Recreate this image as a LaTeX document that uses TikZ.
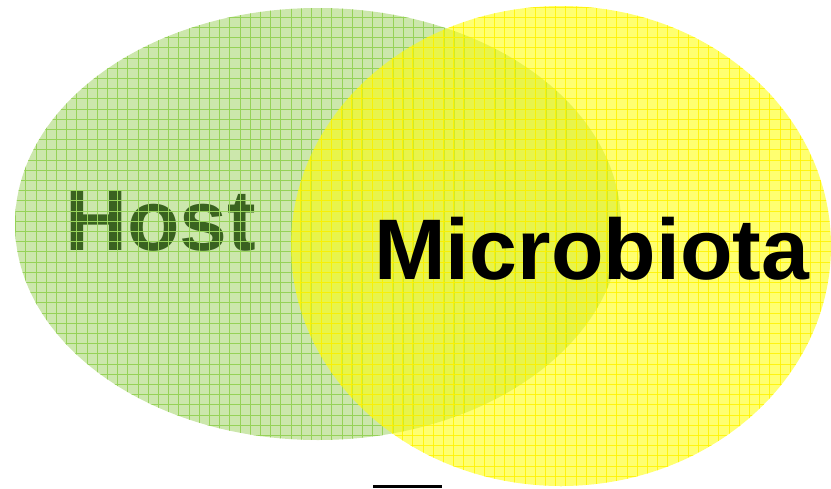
\documentclass[tikz,border=0pt]{standalone}
\usepackage{fontspec}
\setsansfont{Liberation Sans}
\usetikzlibrary{shapes.geometric}
\definecolor{hostfill}{RGB}{204,231,172}
\definecolor{hostline}{RGB}{150,210,88}
\definecolor{hostword}{RGB}{58,98,32}
\definecolor{microfill}{RGB}{255,255,0}
\definecolor{microline}{RGB}{255,242,0}
\begin{document}
\begin{tikzpicture}[x=1pt,y=-1pt,
	blob/.style={ellipse,draw=none,inner sep=0pt},
	gridlines/.style={line width=1pt},
	word/.style={font=\sffamily\bfseries\fontsize{86}{90}\selectfont,inner sep=0pt,anchor=base west}]
	\useasboundingbox (0,0) rectangle (831,488);
	% host circle, its label, then the grid over both
	\node[blob,fill=hostfill,minimum width=606pt,minimum height=432pt] (host) at (318,224) {};
	\node[word,text=hostword] (hostlabel) at (65,250) {Host};
	\begin{scope}
		\clip (host.center) ellipse [x radius=303, y radius=216];
		\foreach \gx in {5.5,15.7,...,630}
			\draw[gridlines,hostline] (\gx,0) -- (\gx,488);
		\foreach \gy in {7,17.2,...,450}
			\draw[gridlines,hostline] (0,\gy) -- (831,\gy);
	\end{scope}
	% microbiota circle laid over it
	\node[blob,fill=microfill,fill opacity=.56,minimum width=540pt,minimum height=480pt] (micro) at (561,246) {};
	\begin{scope}
		\clip (micro.center) ellipse [x radius=270, y radius=240];
		\foreach \gx in {290.5,300.7,...,835}
			\draw[gridlines,microline,opacity=.85] (\gx,0) -- (\gx,488);
		\foreach \gy in {7,17.2,...,490}
			\draw[gridlines,microline,opacity=.85] (0,\gy) -- (831,\gy);
	\end{scope}
	\node[word,text=black] (microlabel) at (374,279) {Microbiota};
	\draw[line width=2.6pt] (373,486.7) -- (442,486.7);
\end{tikzpicture}
\end{document}
